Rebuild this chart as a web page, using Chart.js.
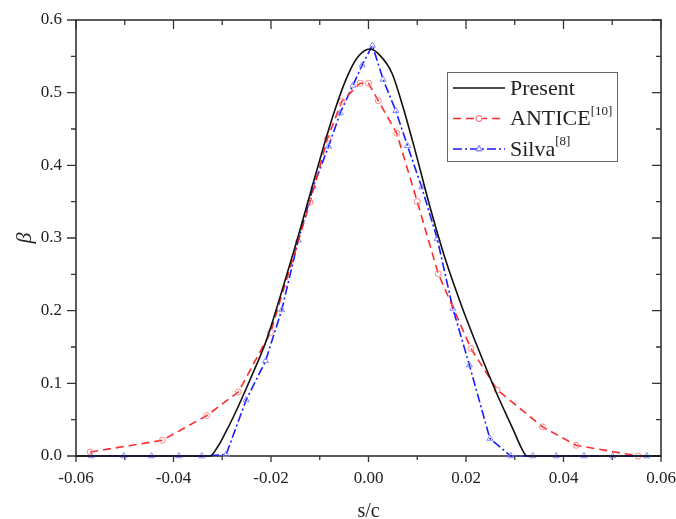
<!DOCTYPE html>
<html>
<head>
<meta charset="utf-8">
<script src="https://cdn.jsdelivr.net/npm/chart.js@4/dist/chart.umd.min.js"></script>
<style>
  body { margin: 0; background: #fff; }
  #wrap { width: 676px; height: 519px; }
</style>
</head>
<body>
<div id="wrap"><canvas id="chart" width="676" height="519"></canvas></div>
<script>
// Present (solid black curve)
const presentX = [-0.060, -0.0325, -0.0310, -0.0295, -0.0277, -0.0243, -0.0209, -0.0175, -0.0147, -0.0120, -0.0095, -0.0070, -0.0045, -0.0022, 0.0003, 0.0024, 0.0048, 0.0070, 0.0095, 0.0126, 0.0157, 0.0194, 0.0229, 0.0263, 0.0297, 0.0313, 0.0325, 0.060];
const presentY = [0, 0, 0.012, 0.030, 0.054, 0.105, 0.160, 0.233, 0.296, 0.360, 0.419, 0.474, 0.520, 0.549, 0.560, 0.551, 0.527, 0.482, 0.422, 0.343, 0.272, 0.201, 0.141, 0.086, 0.036, 0.012, 0, 0];

// ANTICE[10] (red dashed, circles)
const anticeX = [-0.0571, -0.0423, -0.0332, -0.0267, -0.0201, -0.0120, -0.0084, -0.0055, -0.0017, 0.0000, 0.0020, 0.0058, 0.0100, 0.0143, 0.0210, 0.0264, 0.0357, 0.0426, 0.0553];
const anticeY = [0.0055, 0.0216, 0.0555, 0.088, 0.170, 0.349, 0.437, 0.488, 0.513, 0.513, 0.489, 0.444, 0.350, 0.251, 0.148, 0.091, 0.040, 0.0147, 0.0];

// Silva[8] (blue dash-dot, triangles)
const silvaX = [-0.0569, -0.0502, -0.0445, -0.0389, -0.0342, -0.0292, -0.0251, -0.0211, -0.0178, -0.0144, -0.0113, -0.0082, -0.0058, -0.0032, -0.0013, 0.0008, 0.0030, 0.0056, 0.0080, 0.0109, 0.0141, 0.0173, 0.0207, 0.0249, 0.0292, 0.0337, 0.0385, 0.0442, 0.0501, 0.0571];
const silvaY = [0, 0, 0, 0, 0, 0.002, 0.077, 0.131, 0.201, 0.297, 0.371, 0.426, 0.472, 0.510, 0.538, 0.565, 0.518, 0.475, 0.427, 0.370, 0.299, 0.203, 0.125, 0.024, 0, 0, 0, 0, 0, 0];

// 축 눈금
const xTicks = [-0.06, -0.04, -0.02, 0.00, 0.02, 0.04, 0.06];
const xMinor = [-0.05, -0.03, -0.01, 0.01, 0.03, 0.05];
const yTicks = [0.0, 0.1, 0.2, 0.3, 0.4, 0.5, 0.6];
const yMinor = [0.05, 0.15, 0.25, 0.35, 0.45, 0.55];

const seriesNames = ['Present', 'ANTICE', 'Silva'];
const seriesSup = ['', '[10]', '[8]'];

const toPoints = (xs, ys) => xs.map((x, i) => ({ x: x, y: ys[i] }));
const serif = '"Liberation Serif", "Times New Roman", serif';
const axisColor = '#333';

// 축 프레임 + 눈금 (데이터 아래에 그림)
const framePlugin = {
    id: 'frame',
    beforeDatasetsDraw(chart) {
        const { ctx, chartArea: a, scales: { x, y } } = chart;
        ctx.save();
        ctx.strokeStyle = axisColor;
        ctx.lineWidth = 1.6;
        ctx.strokeRect(a.left, a.top, a.right - a.left, a.bottom - a.top);
        ctx.lineWidth = 1.3;
        ctx.beginPath();
        const tickX = (v, outLen, inLen) => {
            const px = x.getPixelForValue(v);
            ctx.moveTo(px, a.bottom); ctx.lineTo(px, a.bottom + outLen);
            ctx.moveTo(px, a.top); ctx.lineTo(px, a.top + inLen);
        };
        const tickY = (v, outLen, inLen) => {
            const py = y.getPixelForValue(v);
            ctx.moveTo(a.left, py); ctx.lineTo(a.left - outLen, py);
            ctx.moveTo(a.right, py); ctx.lineTo(a.right - inLen, py);
        };
        xTicks.forEach(v => tickX(v, 6, 9));
        xMinor.forEach(v => tickX(v, 4, 5));
        yTicks.forEach(v => tickY(v, 9, 9));
        yMinor.forEach(v => tickY(v, 5, 5));
        ctx.stroke();

        // 축 제목
        ctx.fillStyle = '#222';
        ctx.font = '20px ' + serif;
        ctx.textAlign = 'center';
        ctx.textBaseline = 'alphabetic';
        ctx.fillText('s/c', (a.left + a.right) / 2, 517);
        ctx.translate(25, 238);
        ctx.rotate(-Math.PI / 2);
        ctx.font = 'italic 22px ' + serif;
        ctx.textBaseline = 'middle';
        ctx.fillText('β', 0, 0);
        ctx.restore();
    }
};

// 범례 (위첨자 포함)
const legendPlugin = {
    id: 'customLegend',
    afterDraw(chart) {
        const { ctx } = chart;
        const bx = 447, by = 72, bw = 170, bh = 89;
        ctx.save();
        ctx.fillStyle = '#fff';
        ctx.fillRect(bx, by, bw, bh);
        ctx.strokeStyle = '#666';
        ctx.lineWidth = 1;
        ctx.strokeRect(bx + 0.5, by + 0.5, bw, bh);
        const rowsY = [88, 118.5, 149];
        chart.data.datasets.forEach((ds, i) => {
            const ly = rowsY[i];
            ctx.strokeStyle = ds.borderColor;
            ctx.lineWidth = ds.borderWidth;
            ctx.setLineDash(ds.borderDash || []);
            ctx.beginPath();
            ctx.moveTo(453, ly);
            ctx.lineTo(505, ly);
            ctx.stroke();
            ctx.setLineDash([]);
            if (ds.pointRadius > 0) {
                ctx.fillStyle = '#fff';
                ctx.strokeStyle = ds.pointBorderColor;
                ctx.lineWidth = 1;
                Chart.helpers.drawPoint(ctx, { pointStyle: ds.pointStyle, radius: ds.pointRadius, borderWidth: 1 }, 479, ly);
                ctx.stroke();
            }
            ctx.fillStyle = '#222';
            ctx.font = '22px ' + serif;
            ctx.textAlign = 'left';
            ctx.textBaseline = 'middle';
            ctx.fillText(seriesNames[i], 510, ly + 1);
            if (seriesSup[i]) {
                const w = ctx.measureText(seriesNames[i]).width;
                ctx.font = '13px ' + serif;
                ctx.fillText(seriesSup[i], 510 + w, ly - 7);
            }
        });
        ctx.restore();
    }
};

new Chart(document.getElementById('chart'), {
    type: 'line',
    data: {
        datasets: [
            {
                label: 'Present',
                data: toPoints(presentX, presentY),
                borderColor: '#111',
                borderWidth: 1.6,
                pointRadius: 0,
                cubicInterpolationMode: 'monotone',
                clip: false,
            },
            {
                label: 'ANTICE',
                data: toPoints(anticeX, anticeY),
                borderColor: '#ff2a2a',
                borderWidth: 1.6,
                borderDash: [8, 5],
                tension: 0,
                pointStyle: 'circle',
                pointRadius: 3,
                pointBorderWidth: 1,
                pointBorderColor: '#ff8888',
                pointBackgroundColor: 'rgba(255,255,255,0)',
                clip: false,
            },
            {
                label: 'Silva',
                data: toPoints(silvaX, silvaY),
                borderColor: '#1a1aff',
                borderWidth: 1.6,
                borderDash: [9, 3, 2, 3],
                tension: 0,
                pointStyle: 'triangle',
                pointRadius: 3.5,
                pointBorderWidth: 1,
                pointBorderColor: '#8888ff',
                pointBackgroundColor: 'rgba(255,255,255,0)',
                clip: false,
            },
        ]
    },
    options: {
        responsive: false,
        animation: false,
        layout: { padding: { left: 0, top: 20, right: 15, bottom: 0 } },
        plugins: {
            legend: { display: false },
            tooltip: { enabled: false },
        },
        scales: {
            x: {
                type: 'linear',
                min: -0.06,
                max: 0.06,
                afterBuildTicks: s => { s.ticks = xTicks.map(v => ({ value: v })); },
                afterFit: s => { s.height = 63; s.paddingLeft = 0; s.paddingRight = 0; },
                grid: { display: false, drawTicks: true, tickLength: 6 },
                border: { display: false },
                ticks: {
                    autoSkip: false,
                    maxRotation: 0,
                    padding: 6,
                    color: '#222',
                    font: { family: serif, size: 17 },
                    callback: v => (Math.abs(v) < 1e-9 ? 0 : v).toFixed(2),
                },
            },
            y: {
                type: 'linear',
                min: 0,
                max: 0.6,
                afterBuildTicks: s => { s.ticks = yTicks.map(v => ({ value: v })); },
                afterFit: s => { s.width = 76; s.paddingTop = 0; s.paddingBottom = 0; },
                grid: { display: false, drawTicks: true, tickLength: 9 },
                border: { display: false },
                ticks: {
                    padding: 5,
                    color: '#222',
                    font: { family: serif, size: 17 },
                    callback: v => v.toFixed(1),
                },
            },
        },
    },
    plugins: [framePlugin, legendPlugin],
});
</script>
</body>
</html>
